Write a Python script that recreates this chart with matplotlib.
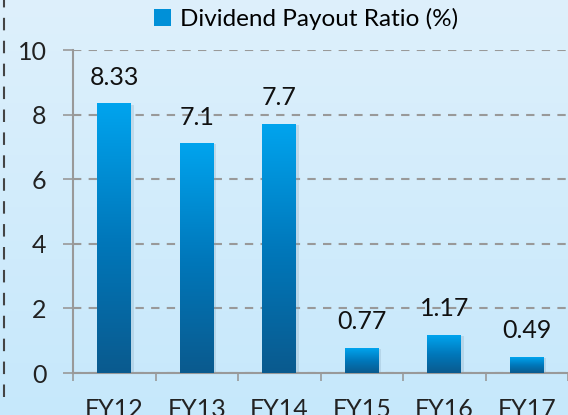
import numpy as np
import matplotlib.pyplot as plt
from matplotlib.colors import LinearSegmentedColormap
from matplotlib.patches import Rectangle
from matplotlib.lines import Line2D

years = ['FY12', 'FY13', 'FY14', 'FY15', 'FY16', 'FY17']
payout = [8.33, 7.1, 7.7, 0.77, 1.17, 0.49]
value_labels = ['8.33', '7.1', '7.7', '0.77', '1.17', '0.49']

plt.rcParams['font.family'] = ['Lato', 'DejaVu Sans']
fs = 18

fig = plt.figure(figsize=(5.68, 4.15), dpi=100)

# background gradient
bg = fig.add_axes([0, 0, 1, 1])
bg_cmap = LinearSegmentedColormap.from_list('bg', ['#c6e8fc', '#def0fb'])
bg.imshow(np.linspace(0, 1, 256).reshape(-1, 1), aspect='auto', cmap=bg_cmap,
          origin='lower', extent=[0, 1, 0, 1])
bg.set_xlim(0, 1)
bg.set_ylim(0, 1)
bg.axis('off')
bg.add_line(Line2D([4 / 568, 4 / 568], [18 / 415, 1], color='#444444', lw=1.5,
                   linestyle=(0, (6, 5))))

W, H = 568, 415
ax = fig.add_axes([73 / W, (H - 373) / H, (W - 73) / W, 323 / H])
ax.patch.set_alpha(0)

bar_cmap = LinearSegmentedColormap.from_list('bar', ['#0a5a8e', '#0078bb', '#00a4ee'])
x = np.arange(len(years))
width = 0.41
grad = np.linspace(0, 1, 256).reshape(-1, 1)
for i, v in enumerate(payout):
    # soft shadow
    ax.add_patch(Rectangle((i - width / 2 + 0.03, 0), width, v - 0.02,
                           facecolor='#7f9fb5', alpha=0.25, lw=0, zorder=2))
    ax.imshow(grad, aspect='auto', cmap=bar_cmap, origin='lower',
              extent=[i - width / 2, i + width / 2, 0, v], zorder=3)
    ax.annotate(value_labels[i], (i, v), xytext=(0, 19), textcoords='offset points',
                ha='center', va='center', fontsize=fs, color='#111111', zorder=4)

ax.set_xlim(-0.5, 5.5 - 3 / 83)
ax.set_ylim(0, 10)
ax.set_yticks([0, 2, 4, 6, 8, 10])
ax.yaxis.grid(True, color='#999999', linestyle=(0, (4, 3.5)), lw=1.5, zorder=1)
ax.set_axisbelow(True)

ax.set_xticks(np.arange(-0.5, 5.6, 1))
ax.set_xticklabels([])
ax.set_xticks(x, minor=True)
ax.set_xticklabels(years, minor=True)
ax.tick_params(axis='x', which='major', length=6, width=1.2, color='#999999', direction='out')
ax.tick_params(axis='x', which='minor', length=0, pad=18, labelsize=fs, labelcolor='#222222')
ax.tick_params(axis='y', length=7, width=1.2, color='#999999', pad=12,
               labelsize=fs, labelcolor='#222222')
for s in ['top', 'right']:
    ax.spines[s].set_visible(False)
for s in ['left', 'bottom']:
    ax.spines[s].set_color('#999999')
    ax.spines[s].set_linewidth(1.5)

# legend
legend_handle = Rectangle((0, 0), 1, 1, facecolor='#0090d8', edgecolor='none')
fig.legend([legend_handle], ['Dividend Payout Ratio (%)'], loc='center',
           bbox_to_anchor=(306 / W, (H - 19) / H), frameon=False, fontsize=17.5,
           handlelength=0.7, handleheight=0.7, handletextpad=0.4)

fig.savefig('out.png', dpi=100)
